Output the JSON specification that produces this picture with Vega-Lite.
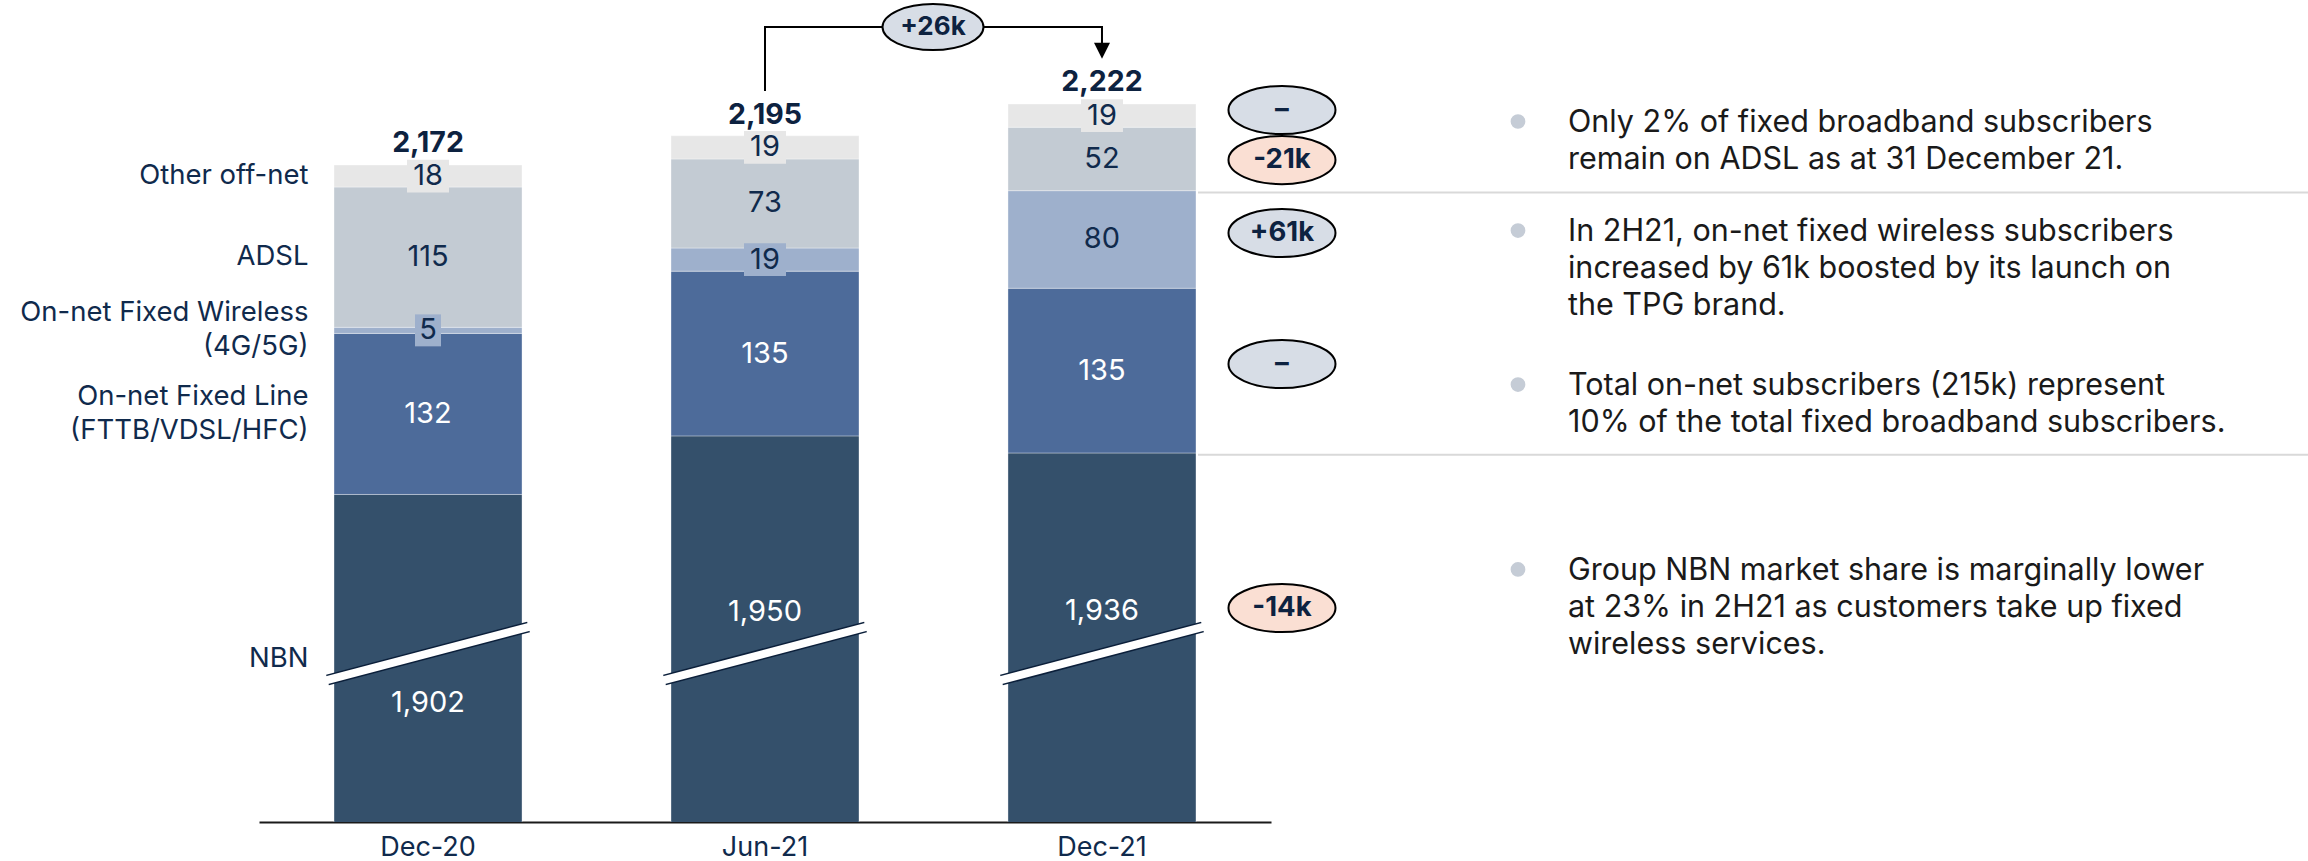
{
  "$schema": "https://vega.github.io/schema/vega-lite/v6.json",
  "width": 1012,
  "height": 822,
  "autosize": {"type": "none"},
  "padding": {"left": 259, "top": 0, "right": 1037, "bottom": 39},
  "background": "white",
  "config": {"view": {"stroke": null}, "font": "Inter"},
  "datasets": {
    "segments": [
      {"period": "Dec-20", "category": "NBN", "rank": 1, "value": 1902, "label_at": 1731},
      {"period": "Dec-20", "category": "On-net Fixed Line\n(FTTB/VDSL/HFC)", "rank": 2, "value": 132},
      {"period": "Dec-20", "category": "On-net Fixed Wireless\n(4G/5G)", "rank": 3, "value": 5},
      {"period": "Dec-20", "category": "ADSL", "rank": 4, "value": 115},
      {"period": "Dec-20", "category": "Other off-net", "rank": 5, "value": 18},
      {"period": "Jun-21", "category": "NBN", "rank": 1, "value": 1950, "label_at": 1805.6},
      {"period": "Jun-21", "category": "On-net Fixed Line\n(FTTB/VDSL/HFC)", "rank": 2, "value": 135},
      {"period": "Jun-21", "category": "On-net Fixed Wireless\n(4G/5G)", "rank": 3, "value": 19},
      {"period": "Jun-21", "category": "ADSL", "rank": 4, "value": 73},
      {"period": "Jun-21", "category": "Other off-net", "rank": 5, "value": 19},
      {"period": "Dec-21", "category": "NBN", "rank": 1, "value": 1936, "label_at": 1806.5},
      {"period": "Dec-21", "category": "On-net Fixed Line\n(FTTB/VDSL/HFC)", "rank": 2, "value": 135},
      {"period": "Dec-21", "category": "On-net Fixed Wireless\n(4G/5G)", "rank": 3, "value": 80},
      {"period": "Dec-21", "category": "ADSL", "rank": 4, "value": 52},
      {"period": "Dec-21", "category": "Other off-net", "rank": 5, "value": 19}
    ],
    "totals": [
      {"period": "Dec-20", "total": 2172},
      {"period": "Jun-21", "total": 2195},
      {"period": "Dec-21", "total": 2222}
    ],
    "breaks": [
      {"period": "Dec-20", "at": 1771.6},
      {"period": "Jun-21", "at": 1771.6},
      {"period": "Dec-21", "at": 1771.6}
    ],
    "bracket": [
      {"period": "Jun-21", "step": 1, "at": 2232.7},
      {"period": "Jun-21", "step": 2, "at": 2285.1},
      {"period": "Dec-21", "step": 3, "at": 2285.1},
      {"period": "Dec-21", "step": 4, "at": 2265.6}
    ],
    "change": [
      {"period": "Jun-21", "label": "+26k", "tone": "flat", "at": 2285.1}
    ],
    "deltas": [
      {"period": "Dec-21", "label": "–", "tone": "flat", "at": 2217.1},
      {"period": "Dec-21", "label": "-21k", "tone": "down", "at": 2176.1},
      {"period": "Dec-21", "label": "+61k", "tone": "flat", "at": 2116.3},
      {"period": "Dec-21", "label": "–", "tone": "flat", "at": 2008.9},
      {"period": "Dec-21", "label": "-14k", "tone": "down", "at": 1808.9}
    ],
    "separators": [
      {"period": "Dec-21", "level": 2149.5},
      {"period": "Dec-21", "level": 1934.5}
    ],
    "notes": [
      {"period": "Dec-21", "at": 2199.1, "note": "Only 2% of fixed broadband subscribers\nremain on ADSL as at 31 December 21."},
      {"period": "Dec-21", "at": 2109.7, "note": "In 2H21, on-net fixed wireless subscribers\nincreased by 61k boosted by its launch on\nthe TPG brand."},
      {"period": "Dec-21", "at": 1983.5, "note": "Total on-net subscribers (215k) represent\n10% of the total fixed broadband subscribers."},
      {"period": "Dec-21", "at": 1831.9, "note": "Group NBN market share is marginally lower\nat 23% in 2H21 as customers take up fixed\nwireless services."}
    ]
  },
  "encoding": {
    "x": {
      "field": "period",
      "type": "nominal",
      "sort": ["Dec-20", "Jun-21", "Dec-21"],
      "scale": {"type": "band", "domain": ["Dec-20", "Jun-21", "Dec-21"], "paddingInner": 0.4421, "paddingOuter": 0.2226},
      "axis": {
        "title": null,
        "labelAngle": 0,
        "labelFontSize": 27,
        "labelFont": "Inter",
        "labelColor": "#102a4c",
        "labelPadding": 12,
        "ticks": false,
        "tickSize": 0,
        "grid": false,
        "domainColor": "#1a1a1a",
        "domainWidth": 2
      }
    }
  },
  "layer": [
    {
      "data": {"name": "segments"},
      "mark": {"type": "bar", "clip": true, "stroke": "#ffffff", "strokeWidth": 1, "strokeOpacity": 0.35},
      "encoding": {
        "y": {"field": "value", "type": "quantitative", "stack": "zero", "scale": {"domain": [1633.5, 2307.3], "nice": false, "zero": false}, "axis": null},
        "color": {
          "field": "category",
          "type": "nominal",
          "scale": {
            "domain": ["NBN", "On-net Fixed Line\n(FTTB/VDSL/HFC)", "On-net Fixed Wireless\n(4G/5G)", "ADSL", "Other off-net"],
            "range": ["#34506b", "#4d6b9a", "#9eb0cc", "#c3cbd3", "#e7e7e7"]
          },
          "legend": null
        },
        "order": {"field": "rank", "type": "quantitative"}
      }
    },
    {
      "data": {"name": "segments"},
      "mark": {"type": "point", "filled": true, "strokeWidth": 0},
      "encoding": {
        "y": {"field": "value", "type": "quantitative", "stack": "zero", "bandPosition": 0.5, "scale": {"domain": [1633.5, 2307.3], "nice": false, "zero": false}, "axis": null},
        "color": {"field": "category", "type": "nominal", "legend": null},
        "detail": {"field": "category"},
        "order": {"field": "rank", "type": "quantitative"},
        "shape": {"condition": {"test": "datum.value < 10", "value": "M-1,-1.23H1V1.23H-1Z"}, "value": "M-1,-0.78H1V0.78H-1Z"},
        "size": {"condition": {"test": "datum.value < 10", "value": 676}, "value": 1764},
        "opacity": {"condition": {"test": "datum.value < 30", "value": 1}, "value": 0}
      }
    },
    {
      "data": {"name": "segments"},
      "mark": {"type": "text", "fontSize": 29, "baseline": "middle", "align": "center"},
      "encoding": {
        "y": {"field": "value", "type": "quantitative", "stack": "zero", "bandPosition": 0.5, "scale": {"domain": [1633.5, 2307.3], "nice": false, "zero": false}, "axis": null},
        "detail": {"field": "category"},
        "order": {"field": "rank", "type": "quantitative"},
        "text": {"field": "value", "type": "quantitative", "format": ","},
        "color": {"condition": {"test": "datum.rank <= 2", "value": "#ffffff"}, "value": "#102a4c"},
        "opacity": {"condition": {"test": "datum.rank == 1", "value": 0}, "value": 1}
      }
    },
    {
      "data": {"name": "breaks"},
      "mark": {"type": "point", "shape": "M-1,0.2637L1,-0.2637", "filled": false, "stroke": "#0b1f3a", "strokeWidth": 11, "strokeCap": "butt", "opacity": 1, "size": 40401},
      "encoding": {
        "y": {"field": "at", "type": "quantitative", "scale": {"domain": [1633.5, 2307.3], "nice": false, "zero": false}, "axis": null}
      }
    },
    {
      "data": {"name": "breaks"},
      "mark": {"type": "point", "shape": "M-1,0.2637L1,-0.2637", "filled": false, "stroke": "#ffffff", "strokeWidth": 8, "strokeCap": "butt", "opacity": 1, "size": 44000},
      "encoding": {
        "y": {"field": "at", "type": "quantitative", "scale": {"domain": [1633.5, 2307.3], "nice": false, "zero": false}, "axis": null}
      }
    },
    {
      "data": {"name": "segments"},
      "transform": [{"filter": "datum.rank == 1"}],
      "mark": {"type": "text", "fontSize": 29, "baseline": "middle", "align": "center", "color": "#ffffff"},
      "encoding": {
        "y": {"field": "label_at", "type": "quantitative", "scale": {"domain": [1633.5, 2307.3], "nice": false, "zero": false}, "axis": null},
        "text": {"field": "value", "type": "quantitative", "format": ","}
      }
    },
    {
      "data": {"name": "segments"},
      "transform": [{"filter": "datum.period == 'Dec-20'"}],
      "mark": {"type": "text", "fontSize": 27.5, "baseline": "middle", "align": "right", "dx": -119.5, "lineBreak": "\n", "lineHeight": 34, "color": "#102a4c"},
      "encoding": {
        "y": {"field": "value", "type": "quantitative", "stack": "zero", "bandPosition": 0.5, "scale": {"domain": [1633.5, 2307.3], "nice": false, "zero": false}, "axis": null},
        "detail": {"field": "category"},
        "order": {"field": "rank", "type": "quantitative"},
        "text": {"field": "category", "type": "nominal"},
        "opacity": {"condition": {"test": "datum.rank >= 4", "value": 1}, "value": 0}
      }
    },
    {
      "data": {"name": "segments"},
      "transform": [{"filter": "datum.period == 'Dec-20'"}],
      "mark": {"type": "text", "fontSize": 27.5, "baseline": "line-bottom", "align": "right", "dx": -119.5, "lineBreak": "\n", "lineHeight": 34, "color": "#102a4c"},
      "encoding": {
        "y": {"field": "value", "type": "quantitative", "stack": "zero", "bandPosition": 0.5, "scale": {"domain": [1633.5, 2307.3], "nice": false, "zero": false}, "axis": null},
        "detail": {"field": "category"},
        "order": {"field": "rank", "type": "quantitative"},
        "text": {"field": "category", "type": "nominal"},
        "opacity": {"condition": {"test": "datum.rank == 2 || datum.rank == 3", "value": 1}, "value": 0}
      }
    },
    {
      "data": {"name": "breaks"},
      "transform": [{"filter": "datum.period == 'Dec-20'"}],
      "mark": {"type": "text", "fontSize": 27.5, "baseline": "middle", "align": "right", "dx": -119.5, "dy": 5, "color": "#102a4c", "text": "NBN"},
      "encoding": {
        "y": {"field": "at", "type": "quantitative", "scale": {"domain": [1633.5, 2307.3], "nice": false, "zero": false}, "axis": null}
      }
    },
    {
      "data": {"name": "totals"},
      "mark": {"type": "text", "fontSize": 28.5, "fontWeight": "bold", "baseline": "middle", "align": "center", "dy": -22, "color": "#0d2240"},
      "encoding": {
        "y": {"field": "total", "type": "quantitative", "scale": {"domain": [1633.5, 2307.3], "nice": false, "zero": false}, "axis": null},
        "text": {"field": "total", "type": "quantitative", "format": ","}
      }
    },
    {
      "data": {"name": "bracket"},
      "mark": {"type": "line", "color": "#000000", "strokeWidth": 2, "interpolate": "linear"},
      "encoding": {
        "y": {"field": "at", "type": "quantitative", "scale": {"domain": [1633.5, 2307.3], "nice": false, "zero": false}, "axis": null},
        "order": {"field": "step", "type": "quantitative"}
      }
    },
    {
      "data": {"name": "bracket"},
      "transform": [{"filter": "datum.step == 4"}],
      "mark": {"type": "point", "shape": "M-1,-1L1,-1L0,1Z", "filled": true, "color": "#000000", "opacity": 1, "size": 256},
      "encoding": {
        "y": {"field": "at", "type": "quantitative", "scale": {"domain": [1633.5, 2307.3], "nice": false, "zero": false}, "axis": null}
      }
    },
    {
      "data": {"name": "change"},
      "mark": {"type": "point", "shape": "M-1,0A1,0.455,0,1,0,1,0A1,0.455,0,1,0,-1,0Z", "filled": true, "stroke": "#000000", "strokeWidth": 2, "opacity": 1, "size": 10201, "xOffset": 168},
      "encoding": {
        "y": {"field": "at", "type": "quantitative", "scale": {"domain": [1633.5, 2307.3], "nice": false, "zero": false}, "axis": null},
        "fill": {"field": "tone", "type": "nominal", "scale": {"domain": ["flat", "down"], "range": ["#d7dde6", "#fadfd3"]}, "legend": null}
      }
    },
    {
      "data": {"name": "change"},
      "mark": {"type": "text", "fontSize": 26, "fontWeight": "bold", "baseline": "middle", "align": "center", "dx": 168, "color": "#0d2240"},
      "encoding": {
        "y": {"field": "at", "type": "quantitative", "scale": {"domain": [1633.5, 2307.3], "nice": false, "zero": false}, "axis": null},
        "text": {"field": "label", "type": "nominal"}
      }
    },
    {
      "data": {"name": "separators"},
      "mark": {"type": "point", "shape": "M0,0H1", "filled": false, "stroke": "#d9d9d9", "strokeWidth": 2, "opacity": 1, "size": 4928400, "xOffset": 96},
      "encoding": {
        "y": {"field": "level", "type": "quantitative", "scale": {"domain": [1633.5, 2307.3], "nice": false, "zero": false}, "axis": null}
      }
    },
    {
      "data": {"name": "deltas"},
      "mark": {"type": "point", "shape": "M-1,0A1,0.45,0,1,0,1,0A1,0.45,0,1,0,-1,0Z", "filled": true, "stroke": "#000000", "strokeWidth": 2, "opacity": 1, "size": 11449, "xOffset": 180},
      "encoding": {
        "y": {"field": "at", "type": "quantitative", "scale": {"domain": [1633.5, 2307.3], "nice": false, "zero": false}, "axis": null},
        "fill": {"field": "tone", "type": "nominal", "scale": {"domain": ["flat", "down"], "range": ["#d7dde6", "#fadfd3"]}, "legend": null}
      }
    },
    {
      "data": {"name": "deltas"},
      "mark": {"type": "text", "fontSize": 27.5, "fontWeight": "bold", "baseline": "middle", "align": "center", "dx": 180, "color": "#0d2240"},
      "encoding": {
        "y": {"field": "at", "type": "quantitative", "scale": {"domain": [1633.5, 2307.3], "nice": false, "zero": false}, "axis": null},
        "text": {"field": "label", "type": "nominal"}
      }
    },
    {
      "data": {"name": "notes"},
      "mark": {"type": "point", "shape": "circle", "filled": true, "color": "#c5ccd6", "opacity": 1, "size": 217, "xOffset": 416, "yOffset": -10.5},
      "encoding": {
        "y": {"field": "at", "type": "quantitative", "scale": {"domain": [1633.5, 2307.3], "nice": false, "zero": false}, "axis": null}
      }
    },
    {
      "data": {"name": "notes"},
      "mark": {"type": "text", "fontSize": 30.5, "baseline": "alphabetic", "align": "left", "dx": 466, "lineBreak": "\n", "lineHeight": 37, "color": "#1a1a1a"},
      "encoding": {
        "y": {"field": "at", "type": "quantitative", "scale": {"domain": [1633.5, 2307.3], "nice": false, "zero": false}, "axis": null},
        "text": {"field": "note", "type": "nominal"}
      }
    }
  ]
}
